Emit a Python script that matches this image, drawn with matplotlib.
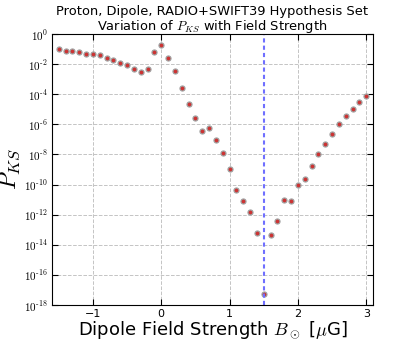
import matplotlib
matplotlib.use("Agg")

import matplotlib.pyplot as plt
import numpy as np

# field strengths (muG) and log10 of the KS p-value
field = [-1.5, -1.4, -1.3, -1.2, -1.1, -1.0, -0.9, -0.8, -0.7, -0.6,
         -0.5, -0.4, -0.3, -0.2, -0.1, 0.0, 0.1, 0.2, 0.3, 0.4,
         0.5, 0.6, 0.7, 0.8, 0.9, 1.0, 1.1, 1.2, 1.3, 1.4,
         1.5, 1.6, 1.7, 1.8, 1.9, 2.0, 2.1, 2.2, 2.3, 2.4,
         2.5, 2.6, 2.7, 2.8, 2.9, 3.0]
log_pks = [-0.97, -1.11, -1.13, -1.22, -1.30, -1.30, -1.41, -1.59, -1.72, -1.90,
           -2.08, -2.30, -2.52, -2.34, -1.19, -0.71, -1.57, -2.45, -3.58, -4.62,
           -5.56, -6.47, -6.23, -7.07, -7.93, -8.94, -10.38, -11.11, -11.85, -13.23,
           -17.26, -13.36, -12.41, -11.02, -11.09, -10.03, -9.60, -8.77, -7.99, -7.28,
           -6.62, -6.01, -5.48, -4.97, -4.50, -4.11]
decades = list(range(-18, 1, 2))
best_field = 1.5

plt.rcParams["mathtext.fontset"] = "cm"

fig = plt.figure(figsize=(4.15, 3.4), dpi=100)
ax = fig.add_axes([0.125, 0.103, 0.774, 0.797])

pks = 10.0 ** np.array(log_pks)
ax.semilogy(field, pks, linestyle="none", marker="o", ms=3.6,
            mfc="#cc3333", mec="#a0a0a0", mew=0.9)
ax.axvline(best_field, color="#6f6fff", ls=(0, (2, 1.5)), lw=1.5)

ax.set_xlim(-1.6, 3.1)
ax.set_ylim(1e-18, 1)
ax.set_yticks([10.0 ** k for k in decades])
ax.set_yticklabels([r"$\mathsf{10}^{\text{%d}}$" % k for k in decades])
ax.yaxis.set_minor_locator(matplotlib.ticker.NullLocator())
ax.set_xticks([-1, 0, 1, 2, 3])
ax.tick_params(direction="in", top=True, right=True, labelsize=8, length=4, pad=3)
ax.grid(True, color="#c4c4c4", ls="--", lw=0.7)

ax.set_xlabel(r"Dipole Field Strength $B_\odot$ [$\mu$G]", fontsize=13)
ax.xaxis.set_label_coords(0.5, -0.055, transform=ax.transAxes)
ax.xaxis.label.set_va("top")
ax.set_ylabel(r"$P_{KS}$", fontsize=17)
ax.yaxis.set_label_coords(-0.093, 0.5)
ax.set_title("Proton, Dipole, RADIO+SWIFT39 Hypothesis Set\n"
             r"Variation of $P_{KS}$ with Field Strength", fontsize=9.4, pad=3,
             linespacing=1.0)

fig.savefig("out.png", dpi=100)
